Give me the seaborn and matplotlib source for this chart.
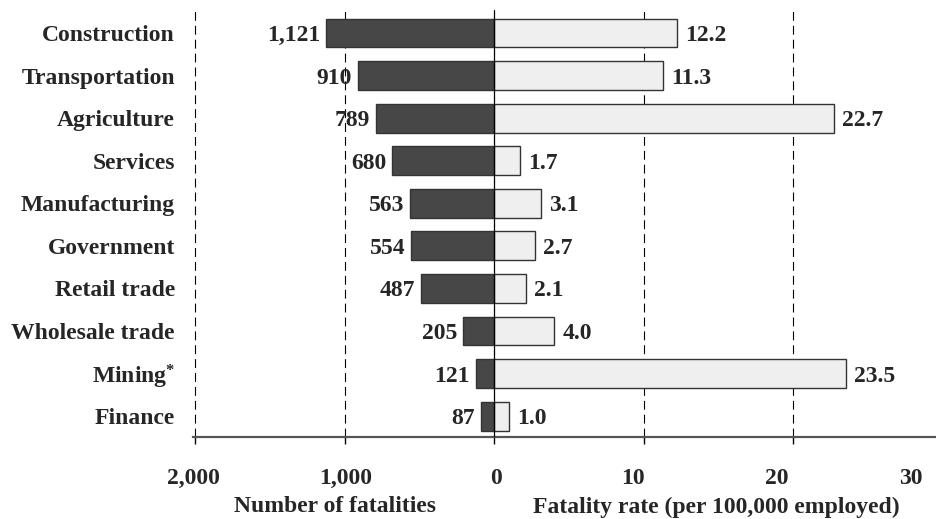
import pandas as pd
import matplotlib
matplotlib.use("Agg")
import matplotlib.pyplot as plt
import seaborn as sns

# Datos del gráfico
categories = ["Construction", "Transportation", "Agriculture", "Services",
              "Manufacturing", "Government", "Retail trade", "Wholesale trade",
              "Mining$^{*}$", "Finance"]
fatalities = [1121, 910, 789, 680, 563, 554, 487, 205, 121, 87]
rates = [12.2, 11.3, 22.7, 1.7, 3.1, 2.7, 2.1, 4.0, 23.5, 1.0]
fatal_ticks = [2000, 1000, 0]
fatal_tick_labels = ["2,000", "1,000", "0"]
rate_ticks = [10, 20, 30]
rate_tick_labels = ["10", "20", "30"]

# la escala: 1,000 muertes ocupan lo mismo que una tasa de 10
SCALE = 100
FS = 17

left = pd.DataFrame({"category": categories, "value": [-f for f in fatalities], "side": "fatal"})
right = pd.DataFrame({"category": categories, "value": [r * SCALE for r in rates], "side": "rate"})
df = pd.concat([left, right], ignore_index=True)

sns.set_theme(style="white")
plt.rcParams["font.family"] = ["Liberation Serif", "DejaVu Serif"]
plt.rcParams["font.weight"] = "bold"
plt.rcParams["mathtext.fontset"] = "custom"
plt.rcParams["mathtext.rm"] = "Liberation Serif:bold"
plt.rcParams["mathtext.it"] = "Liberation Serif:bold"
plt.rcParams["mathtext.default"] = "rm"

fig = plt.figure(figsize=(9.36, 5.19), dpi=100)
ax = fig.add_axes([193 / 936, 1 - 437 / 519, 1 - 193 / 936, (437 - 10) / 519])

sns.barplot(data=df, y="category", x="value", hue="side", order=categories,
            dodge=False, palette={"fatal": "#474747", "rate": "#efefef"},
            edgecolor="#333333", linewidth=1, width=0.68, legend=False, ax=ax)

x_right = (936 - 493) / 150 * 1000
ax.set_xlim(-2000, x_right)
ax.set_ylim(9.49, -0.54)

# líneas de referencia
for x in [-2000, -1000, 1000, 2000]:
    ax.axvline(x, color="black", lw=0.8, ls=(0, (8, 4.5)), zorder=0)
ax.axvline(0, color="black", lw=0.9, zorder=3)

# etiquetas de valores
for i, (f, r) in enumerate(zip(fatalities, rates)):
    ax.text(-f - 40, i, f"{f:,}", ha="right", va="center_baseline", fontsize=FS, fontweight="bold")
    ax.text(r * SCALE + 55, i, f"{r:.1f}", ha="left", va="center_baseline", fontsize=FS, fontweight="bold")

# ejes
for s in ["top", "right", "left"]:
    ax.spines[s].set_visible(False)
ax.spines["bottom"].set_color("#555555")
ax.spines["bottom"].set_linewidth(1.6)

ax.set_xticks([-t for t in fatal_ticks] + [t * SCALE for t in rate_ticks[:2]], minor=True)
label_pos = [-2013, -993, 13, 927, 1887, 2787]
ax.set_xticks(label_pos)
ax.set_xticklabels(fatal_tick_labels + rate_tick_labels, fontsize=FS, fontweight="bold")
ax.tick_params(axis="x", which="major", length=0, pad=22)
ax.tick_params(axis="x", which="minor", length=5, width=1, color="black", direction="out", bottom=True)
ax.tick_params(axis="y", length=0, pad=13, labelsize=FS)
for lab in ax.get_yticklabels():
    lab.set_fontweight("bold")
    lab.set_verticalalignment("center_baseline")
ax.set_xlabel("")
ax.set_ylabel("")

label_y = -(507 - 437) / 427
ax.text(-1067, label_y, "Number of fatalities", transform=ax.get_xaxis_transform(),
        ha="center", va="center", fontsize=FS, fontweight="bold")
ax.text(1487, label_y, "Fatality rate (per 100,000 employed)",
        transform=ax.get_xaxis_transform(), ha="center", va="center",
        fontsize=FS, fontweight="bold")

fig.savefig("out.png", dpi=100)
